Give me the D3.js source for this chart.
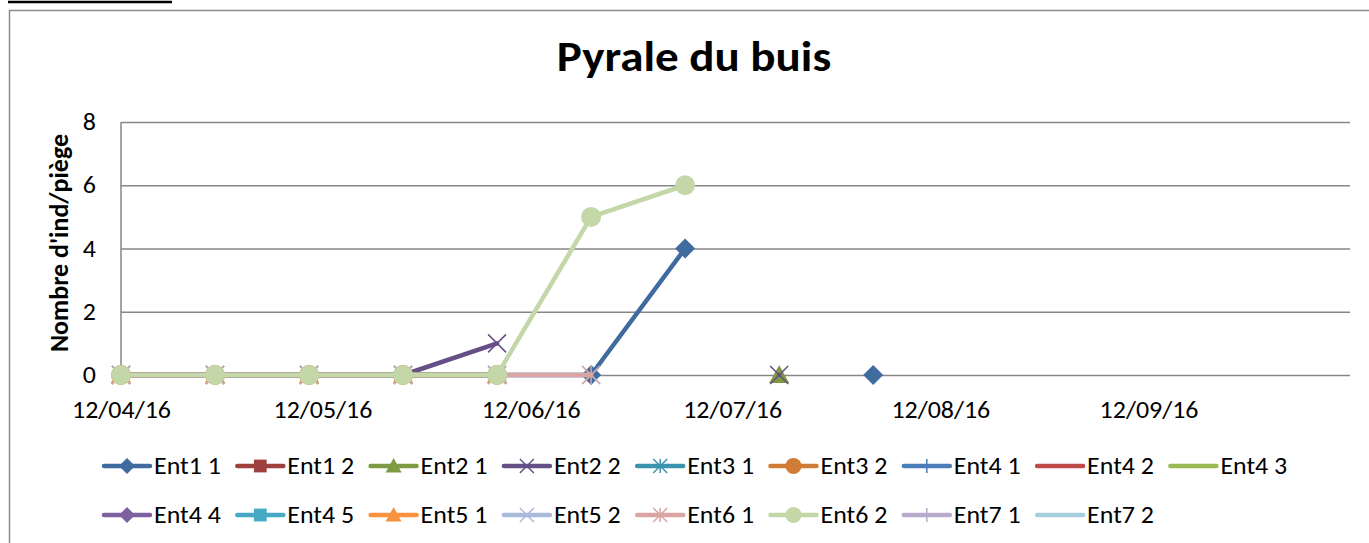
<html>
<head>
<title>Pyrale du buis</title>
<script src="https://cdnjs.cloudflare.com/ajax/libs/d3/7.8.5/d3.min.js"></script>
<style>
body { margin: 0; background: #fff; }
text { font-family: Calibri, Carlito, Lato, sans-serif; fill: #000; }
</style>
</head>
<body>
<svg id="chart" width="1369" height="543"></svg>
<script>
// sampling dates (dd/mm/yy)
var dates = ['12/04/16', '26/04/16', '10/05/16', '24/05/16', '07/06/16', '21/06/16', '05/07/16', '19/07/16', '02/08/16'];
var seriesNames = ['Ent1 1', 'Ent1 2', 'Ent2 1', 'Ent2 2', 'Ent3 1', 'Ent3 2', 'Ent4 1', 'Ent4 2', 'Ent4 3',
                   'Ent4 4', 'Ent4 5', 'Ent5 1', 'Ent5 2', 'Ent6 1', 'Ent6 2', 'Ent7 1', 'Ent7 2'];
var N = null;
var ent1_1 = [0, 0, 0, 0, 0, 0, 4, N, 0];
var ent1_2 = [0, 0, 0, 0, 0, N, N, N, N];
var ent2_1 = [0, 0, 0, 0, 0, N, N, 0, N];
var ent2_2 = [0, 0, 0, 0, 1, N, N, 0, N];
var ent3_1 = [0, 0, 0, 0, 0, N, N, N, N];
var ent3_2 = [0, 0, 0, 0, 0, N, N, N, N];
var ent4_1 = [0, 0, 0, 0, 0, N, N, N, N];
var ent4_2 = [0, 0, 0, 0, 0, N, N, N, N];
var ent4_3 = [0, 0, 0, 0, 0, N, N, N, N];
var ent4_4 = [0, 0, 0, 0, 0, N, N, N, N];
var ent4_5 = [0, 0, 0, 0, 0, N, N, N, N];
var ent5_1 = [0, 0, 0, 0, 0, N, N, N, N];
var ent5_2 = [0, 0, 0, 0, 0, 0, N, N, N];
var ent6_1 = [0, 0, 0, 0, 0, 0, N, N, N];
var ent6_2 = [0, 0, 0, 0, 0, 5, 6, N, N];
var ent7_1 = [N, N, N, N, N, N, N, N, N];
var ent7_2 = [N, N, N, N, N, N, N, N, N];
var seriesValues = [ent1_1, ent1_2, ent2_1, ent2_2, ent3_1, ent3_2, ent4_1, ent4_2, ent4_3,
                    ent4_4, ent4_5, ent5_1, ent5_2, ent6_1, ent6_2, ent7_1, ent7_2];
var yTicks = [0, 2, 4, 6, 8];
var xTickDates = ['12/04/16', '12/05/16', '12/06/16', '12/07/16', '12/08/16', '12/09/16'];
var xDomain = ['12/04/16', '12/10/16'];

var colors = ['#3f6b9e', '#9f413e', '#7e9b43', '#664e87', '#3a94ad', '#d07b36', '#4a7ebb', '#be4b48', '#98b954',
              '#7d60a0', '#46aac5', '#f69240', '#a8bad9', '#d9a6a4', '#c4d7a9', '#b8abc9', '#a6cedc'];
var markers = ['diamond', 'square', 'triangle', 'x', 'star', 'circle', 'plus', 'none', 'none',
               'diamond', 'square', 'triangle', 'x', 'star', 'circle', 'plus', 'none'];

var parse = d3.timeParse('%d/%m/%y');
var fmt = d3.timeFormat('%d/%m/%y');

var svg = d3.select('#chart');

// the original picture is a little wider than tall, widen horizontal text to match
function widen(sel, k) {
    sel.each(function () {
        var w = this.getComputedTextLength();
        d3.select(this).attr('textLength', w * k).attr('lengthAdjust', 'spacingAndGlyphs');
    });
}

// outer frame + cut-off caption underline
svg.append('rect').attr('x', 9.5).attr('y', 10.5).attr('width', 1420).attr('height', 600)
    .attr('fill', 'none').attr('stroke', '#8a8a8a').attr('stroke-width', 1.5);
svg.append('line').attr('x1', 8).attr('x2', 172).attr('y1', 2).attr('y2', 2)
    .attr('stroke', '#000').attr('stroke-width', 2.5);

var x = d3.scaleTime().domain(xDomain.map(parse)).range([121, 1350]);
var y = d3.scaleLinear().domain([0, 8]).range([375, 122]);

// gridlines
svg.append('g').attr('transform', 'translate(121,0)')
    .call(d3.axisLeft(y).tickValues(yTicks).tickSize(-1229).tickFormat(''))
    .call(function (g) {
        g.select('.domain').remove();
        g.selectAll('line').attr('stroke', '#868686').attr('stroke-width', 1.5);
    });
svg.append('line').attr('x1', 121).attr('x2', 121).attr('y1', 122).attr('y2', 375)
    .attr('stroke', '#868686').attr('stroke-width', 1.5);

// y axis labels
svg.append('g').attr('transform', 'translate(121,0)')
    .call(d3.axisLeft(y).tickValues(yTicks).tickSize(0).tickPadding(25))
    .call(function (g) {
        g.select('.domain').remove();
        g.selectAll('text').attr('font-size', 24).style('font-family', 'Calibri, Carlito, Lato, sans-serif').call(widen, 1.08);
    });

// x axis labels
svg.append('g').attr('transform', 'translate(0,375)')
    .call(d3.axisBottom(x).tickValues(xTickDates.map(parse)).tickFormat(fmt).tickSize(0).tickPadding(26))
    .call(function (g) {
        g.select('.domain').remove();
        g.selectAll('text').attr('font-size', 24).style('font-family', 'Calibri, Carlito, Lato, sans-serif').call(widen, 1.08);
    });

// titles
svg.append('text').attr('x', 694).attr('y', 71).attr('text-anchor', 'middle')
    .attr('font-size', 42).attr('font-weight', 'bold').text('Pyrale du buis').call(widen, 1.12);
svg.append('text').attr('transform', 'translate(68,243) rotate(-90)').attr('text-anchor', 'middle')
    .attr('font-size', 26).attr('font-weight', 'bold').text("Nombre d'ind/piège");

function markerPath(type, s) {
    switch (type) {
        case 'diamond': return 'M0,' + (-s) + 'L' + s + ',0L0,' + s + 'L' + (-s) + ',0Z';
        case 'square': return 'M' + (-s * 0.8) + ',' + (-s * 0.8) + 'h' + (1.6 * s) + 'v' + (1.6 * s) + 'h' + (-1.6 * s) + 'Z';
        case 'triangle': return 'M0,' + (-s) + 'L' + s + ',' + (s * 0.8) + 'L' + (-s) + ',' + (s * 0.8) + 'Z';
        case 'circle': return d3.symbol(d3.symbolCircle, Math.PI * s * s)();
        case 'x': return 'M' + (-s) + ',' + (-s) + 'L' + s + ',' + s + 'M' + (-s) + ',' + s + 'L' + s + ',' + (-s);
        case 'star': return 'M' + (-s) + ',' + (-s) + 'L' + s + ',' + s + 'M' + (-s) + ',' + s + 'L' + s + ',' + (-s) + 'M0,' + (-s) + 'L0,' + s;
        case 'plus': return 'M' + (-s) + ',0L' + s + ',0M0,' + (-s) + 'L0,' + s;
    }
    return '';
}
function isStroked(type) { return type === 'x' || type === 'star' || type === 'plus'; }

var line = d3.line()
    .defined(function (d) { return d.v !== null; })
    .x(function (d) { return x(d.date); })
    .y(function (d) { return y(d.v); });

var plot = svg.append('g');
seriesNames.forEach(function (name, i) {
    var pts = dates.map(function (d, j) { return { date: parse(d), v: seriesValues[i][j] }; });
    var g = plot.append('g');
    g.append('path').datum(pts).attr('d', line).attr('fill', 'none')
        .attr('stroke', colors[i]).attr('stroke-width', 4.5).attr('stroke-linejoin', 'round').attr('stroke-linecap', 'round');
    if (markers[i] !== 'none') {
        g.selectAll('path.mk').data(pts.filter(function (d) { return d.v !== null; }))
            .enter().append('path').attr('class', 'mk')
            .attr('transform', function (d) { return 'translate(' + x(d.date) + ',' + y(d.v) + ')'; })
            .attr('d', markerPath(markers[i], isStroked(markers[i]) ? 9 : 10))
            .attr('fill', isStroked(markers[i]) ? 'none' : colors[i])
            .attr('stroke', colors[i]).attr('stroke-width', isStroked(markers[i]) ? 1.5 : 0);
    }
});

// legend
var legend = svg.append('g');
seriesNames.forEach(function (name, i) {
    var col = i % 9, row = Math.floor(i / 9);
    var g = legend.append('g').attr('transform', 'translate(' + (102 + col * 133.3) + ',' + (466 + row * 49) + ')');
    g.append('line').attr('x1', 2).attr('x2', 48).attr('stroke', colors[i]).attr('stroke-width', 4.5).attr('stroke-linecap', 'round');
    if (markers[i] !== 'none') {
        g.append('path').attr('transform', 'translate(25,0)')
            .attr('d', markerPath(markers[i], isStroked(markers[i]) ? 7 : 8))
            .attr('fill', isStroked(markers[i]) ? 'none' : colors[i])
            .attr('stroke', colors[i]).attr('stroke-width', isStroked(markers[i]) ? 1.5 : 0);
    }
    g.append('text').attr('x', 52).attr('y', 8).attr('font-size', 24).text(name).call(widen, 1.08);
});
</script>
</body>
</html>
